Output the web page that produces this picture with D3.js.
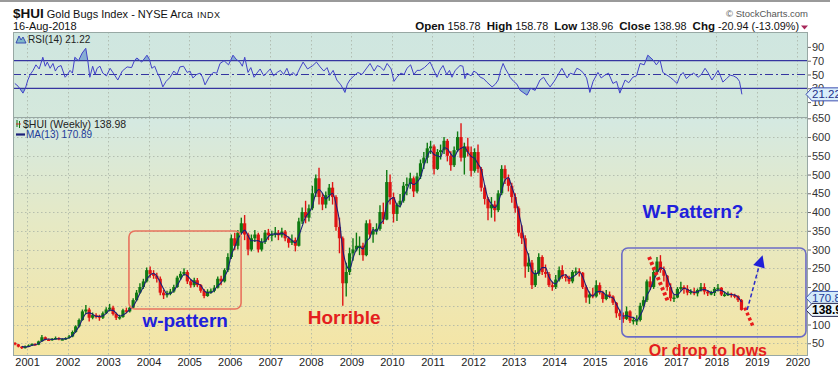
<!DOCTYPE html>
<html><head><meta charset="utf-8">
<script src="https://cdn.jsdelivr.net/npm/d3@7"></script>
<style>
body{margin:0;background:#fff}
svg{display:block}
text{font-family:"Liberation Sans",Arial,sans-serif}
</style>
</head><body>
<svg id="c" width="838" height="371"></svg>
<script>
// ---------------- DATA ----------------
const startYear = 2000, startMonth = 8;   // first monthly bar: Sep 2000
const firstOpen = 51;
const closes = [
 47,41,37,42,
 44,48,46,55,66,60,58,62,64,60,61,64,
 68,80,95,112,135,140,118,125,122,118,130,140,
 145,128,118,120,138,135,145,165,185,200,215,245,
 235,230,222,185,178,182,188,200,225,235,240,215,
 205,218,205,190,176,188,190,198,222,215,245,280,
 330,310,345,370,340,300,330,340,300,320,345,338,
 340,345,338,348,330,318,325,310,375,400,385,410,
 450,490,440,420,445,465,440,360,330,210,240,290,
 300,310,310,285,370,340,350,355,400,380,480,440,
 395,420,430,470,475,490,455,495,530,545,570,575,
 515,560,565,590,550,525,565,600,545,575,560,510,
 560,515,465,435,410,420,405,450,515,490,470,440,
 410,345,330,255,265,205,235,280,240,235,205,200,
 220,245,228,225,215,240,242,238,200,172,180,175,
 205,185,168,180,175,158,130,122,115,135,110,112,
 112,150,165,215,200,240,268,245,230,200,170,172,
 195,200,195,185,188,183,192,200,188,183,184,195,
 198,180,180,182,178,176,165,139
];
const highs = [
 53,48,42,44,
 47,50,50,57,72,68,62,64,68,66,63,66,
 72,84,98,116,140,152,145,132,130,126,135,146,
 155,150,132,126,142,145,150,170,192,210,222,252,
 255,245,238,228,192,190,195,206,230,242,250,245,
 220,225,224,208,195,194,196,205,228,230,250,290,
 340,345,352,385,392,345,340,352,345,330,352,355,
 350,360,352,358,352,335,340,332,385,412,430,420,
 470,500,518,450,455,475,480,445,385,335,265,305,
 330,345,335,318,378,380,360,370,418,425,512,500,
 452,425,448,480,492,505,495,505,540,560,585,590,
 580,568,580,600,595,562,575,615,637,585,598,575,
 570,580,520,472,440,440,430,458,525,525,500,478,
 450,415,365,338,290,272,245,290,285,260,240,215,
 232,255,258,235,230,245,252,250,240,205,188,198,
 218,212,190,192,188,178,160,140,132,148,138,120,
 125,158,175,220,228,250,280,285,255,232,210,180,
 200,214,205,205,194,198,196,211,210,192,190,200,
 208,200,188,188,185,182,178,168
];
const lows = [
 45,39,35,36,
 40,43,44,45,54,58,56,57,60,58,58,59,
 62,66,78,92,110,128,108,114,116,110,115,128,
 135,124,112,113,118,130,132,143,162,182,195,212,
 225,222,212,178,168,172,178,185,198,220,230,208,
 198,200,200,185,170,174,182,186,196,205,212,240,
 275,298,300,340,325,285,295,320,292,295,315,325,
 322,332,325,332,322,305,312,295,308,368,370,375,
 405,440,420,405,410,430,420,350,290,150,175,232,
 270,295,285,270,282,330,318,340,350,368,378,420,
 372,376,412,425,445,462,440,450,488,515,530,555,
 500,512,540,555,535,510,520,560,535,500,548,495,
 505,505,455,420,378,385,375,400,445,475,455,425,
 398,335,315,225,240,195,200,230,232,225,200,190,
 195,215,222,215,208,210,232,228,195,158,155,170,
 172,180,158,165,170,152,118,112,105,112,104,100,
 99,108,145,160,192,195,235,238,215,190,162,160,
 170,190,182,178,180,178,175,188,180,176,178,176,
 188,176,174,176,172,170,160,137
];
const maPeriod = 3;   // 3 monthly bars ~ 13 weeks

const rsiYears = [
 2000.70,2000.78,2000.90,2000.96,2001.02,2001.08,2001.15,2001.22,2001.30,2001.39,
 2001.45,2001.50,2001.57,2001.64,2001.70,2001.76,2001.84,2001.94,2002.00,2002.06,
 2002.12,2002.18,2002.27,2002.36,2002.45,2002.50,2002.55,2002.62,2002.68,2002.73,
 2002.80,2002.87,2002.96,2003.05,2003.13,2003.24,2003.35,2003.47,2003.58,2003.65,
 2003.71,2003.83,2003.96,2004.02,2004.08,2004.15,2004.21,2004.28,2004.35,2004.43,
 2004.53,2004.62,2004.70,2004.77,2004.86,2004.95,2005.02,2005.09,2005.18,2005.27,
 2005.33,2005.39,2005.48,2005.59,2005.68,2005.76,2005.86,2005.97,2006.08,2006.16,
 2006.25,2006.31,2006.37,2006.45,2006.52,2006.60,2006.67,2006.75,2006.84,2006.92,
 2007.00,2007.08,2007.17,2007.25,2007.33,2007.41,2007.48,2007.56,2007.64,2007.72,
 2007.81,2007.92,2008.05,2008.14,2008.23,2008.32,2008.40,2008.47,2008.55,2008.64,
 2008.74,2008.84,2008.90,2008.96,2009.06,2009.16,2009.26,2009.36,2009.46,2009.56,
 2009.64,2009.71,2009.80,2009.88,2009.98,2010.05,2010.12,2010.22,2010.30,2010.37,
 2010.46,2010.54,2010.62,2010.69,2010.80,2010.87,2010.94,2011.02,2011.11,2011.18,
 2011.26,2011.35,2011.42,2011.48,2011.56,2011.68,2011.75,2011.80,2011.85,2011.95,
 2012.02,2012.10,2012.18,2012.26,2012.34,2012.47,2012.55,2012.62,2012.68,2012.74,
 2012.80,2012.86,2012.91,2013.00,2013.08,2013.16,2013.33,2013.42,2013.53,2013.65,
 2013.74,2013.82,2013.90,2014.00,2014.10,2014.19,2014.32,2014.40,2014.48,2014.56,
 2014.63,2014.71,2014.80,2014.88,2014.96,2015.08,2015.16,2015.25,2015.34,2015.45,
 2015.54,2015.62,2015.75,2015.84,2015.94,2016.03,2016.12,2016.22,2016.31,2016.44,
 2016.52,2016.61,2016.68,2016.76,2016.86,2016.94,2017.03,2017.10,2017.18,2017.26,
 2017.35,2017.44,2017.55,2017.63,2017.72,2017.80,2017.89,2017.96,2018.04,2018.10,
 2018.16,2018.25,2018.34,2018.42,2018.51,2018.57,2018.63
];
const rsiValues = [
 37,33,23,30,42,50,56,64,58,75,
 62,68,59,66,55,61,63,46,50,56,
 52,75,70,81,88,70,46,62,50,59,
 62,52,48,59,52,42,55,61,60,70,
 74,68,78,72,59,62,53,45,32,40,
 46,55,50,61,62,53,55,45,50,52,
 46,35,45,53,52,66,70,64,78,72,
 68,62,75,53,60,46,52,58,48,53,
 58,48,53,56,50,59,48,53,48,58,
 68,58,63,68,61,55,60,49,56,42,
 35,24,36,42,48,53,50,58,66,55,
 63,61,56,66,58,40,46,52,50,59,
 64,50,56,56,60,64,68,58,46,56,
 63,50,56,46,56,63,62,44,52,48,
 55,52,46,44,39,32,36,42,56,66,
 58,52,46,40,36,27,20,30,27,42,
 46,38,32,40,50,59,45,52,50,59,
 57,53,45,24,40,53,45,49,52,37,
 40,23,42,38,46,48,66,64,78,71,
 64,71,53,50,46,42,37,48,53,44,
 49,52,46,50,59,52,42,48,56,48,
 39,44,49,48,45,40,21.22
];

const priceTicks = [50,100,150,200,250,300,350,400,450,500,550,600,650];
const priceLabels = [50,100,200,250,300,350,400,450,500,550,600,650]; // 150 sits under the value tags
const rsiTicks = [90,70,50,30,10];
const rsiLines = [70,30];
const yearTicks = [2001,2002,2003,2004,2005,2006,2007,2008,2009,2010,2011,2012,2013,2014,2015,2016,2017,2018,2019,2020];

const lastClose = 138.98, lastMA = 170.89, lastRSI = 21.22;

// ---------------- HELPERS ----------------
function dec(y){const Y=Math.floor(y);const s=new Date(Y,0,1),e=new Date(Y+1,0,1);return new Date(+s+(y-Y)*(e-s));}

const bars = closes.map((c,i)=>{
  const m = startMonth+i;
  return {date:new Date(startYear+Math.floor(m/12), m%12, 15),
          open: i===0?firstOpen:closes[i-1], close:c, high:highs[i], low:lows[i]};
});
const ma = bars.map((b,i)=> i<maPeriod-1?null:{date:b.date, v:d3.mean(closes.slice(i-maPeriod+1,i+1))}).filter(d=>d);
const rsi = rsiYears.map((y,i)=>({date:dec(y), v:rsiValues[i]}));

// ---------------- LAYOUT ----------------
const L=13, R=808, rTop=32, rBot=117, pTop=117, pBot=356;
const svg = d3.select("#c");
const x = d3.scaleTime().domain([dec(2000.655), dec(2020.26)]).range([L,R]);
const yP = d3.scaleLinear().domain([16,653.5]).range([pBot,pTop]);
const yR = d3.scaleLinear().domain([-11.6,111.6]).range([rBot,rTop]);

const defs = svg.append("defs");
const g = defs.append("linearGradient").attr("id","bg").attr("x1",0).attr("y1",0).attr("x2",0).attr("y2",1);
g.append("stop").attr("offset","0%").attr("stop-color","#d4e9e2");
g.append("stop").attr("offset","45%").attr("stop-color","#e6e9c4");
g.append("stop").attr("offset","100%").attr("stop-color","#f5e5a4");
const g2 = defs.append("linearGradient").attr("id","bgr").attr("x1",0).attr("y1",0).attr("x2",0).attr("y2",1);
g2.append("stop").attr("offset","0%").attr("stop-color","#cfe6e0");
g2.append("stop").attr("offset","100%").attr("stop-color","#d4e8dc");
defs.append("clipPath").attr("id","cpP").append("rect").attr("x",L).attr("y",pTop).attr("width",R-L).attr("height",pBot-pTop);
defs.append("clipPath").attr("id","cpR").append("rect").attr("x",L).attr("y",rTop).attr("width",R-L).attr("height",rBot-rTop);
defs.append("clipPath").attr("id","cpHi").append("rect").attr("x",L).attr("y",rTop).attr("width",R-L).attr("height",yR(70)-rTop);
defs.append("clipPath").attr("id","cpLo").append("rect").attr("x",L).attr("y",yR(30)).attr("width",R-L).attr("height",rBot-yR(30));

// top strip
svg.append("rect").attr("x",0).attr("y",0).attr("width",830).attr("height",2).attr("fill","#9a9a9a");

// panels
svg.append("rect").attr("x",L).attr("y",rTop).attr("width",R-L).attr("height",rBot-rTop).attr("fill","url(#bgr)");
svg.append("rect").attr("x",L).attr("y",pTop).attr("width",R-L).attr("height",pBot-pTop).attr("fill","url(#bg)");

// grids
const grid = svg.append("g").attr("stroke","#a9b2a6").attr("stroke-width",0.8).attr("stroke-dasharray","1.5,2.5");
yearTicks.forEach(yr=>{
  const xx = Math.round(x(new Date(yr,0,1)))+0.5;
  grid.append("line").attr("x1",xx).attr("x2",xx).attr("y1",rTop).attr("y2",rBot);
  grid.append("line").attr("x1",xx).attr("x2",xx).attr("y1",pTop).attr("y2",pBot);
});
priceTicks.forEach(v=>{
  const yy = Math.round(yP(v))+0.5;
  grid.append("line").attr("x1",L).attr("x2",R).attr("y1",yy).attr("y2",yy);
});

// ---------------- RSI ----------------
const rG = svg.append("g").attr("clip-path","url(#cpR)");
const rLine = d3.line().x(d=>x(d.date)).y(d=>yR(d.v));
rG.append("path").datum(rsi).attr("clip-path","url(#cpHi)")
  .attr("d", d3.area().x(d=>x(d.date)).y0(yR(70)).y1(d=>yR(d.v))).attr("fill","#6d9bcf").attr("opacity",0.75);
rG.append("path").datum(rsi).attr("clip-path","url(#cpLo)")
  .attr("d", d3.area().x(d=>x(d.date)).y0(yR(30)).y1(d=>yR(d.v))).attr("fill","#6d9bcf").attr("opacity",0.75);
rsiLines.forEach(v=>{
  rG.append("line").attr("x1",L).attr("x2",R).attr("y1",yR(v)).attr("y2",yR(v)).attr("stroke","#3535a0").attr("stroke-width",1.2);
});
rG.append("line").attr("x1",L).attr("x2",R).attr("y1",yR(50)).attr("y2",yR(50))
  .attr("stroke","#3535a0").attr("stroke-width",1).attr("stroke-dasharray","8,3,2,3");
rG.append("path").datum(rsi).attr("d",rLine).attr("fill","none").attr("stroke","#4141c8").attr("stroke-width",1);

// ---------------- PRICE ----------------
const pG = svg.append("g").attr("clip-path","url(#cpP)");
const up = "#0f7a12", dn = "#e01414";
pG.selectAll("line.w").data(bars).join("line")
  .attr("x1",d=>x(d.date)).attr("x2",d=>x(d.date)).attr("y1",d=>yP(d.high)).attr("y2",d=>yP(d.low))
  .attr("stroke",d=>d.close>=d.open?up:dn).attr("stroke-width",1.4);
pG.selectAll("rect.b").data(bars).join("rect")
  .attr("x",d=>x(d.date)-1.6).attr("width",3.2)
  .attr("y",d=>yP(Math.max(d.open,d.close))).attr("height",d=>Math.max(1.5,Math.abs(yP(d.open)-yP(d.close))))
  .attr("fill",d=>d.close>=d.open?up:dn);
pG.append("path").datum(ma).attr("d",d3.line().curve(d3.curveMonotoneX).x(d=>x(d.date)).y(d=>yP(d.v)))
  .attr("fill","none").attr("stroke","#1b1f7a").attr("stroke-width",1.1);

// panel borders
svg.append("rect").attr("x",L+0.5).attr("y",rTop+0.5).attr("width",R-L-1).attr("height",rBot-rTop).attr("fill","none").attr("stroke","#98a8a4");
svg.append("rect").attr("x",L+0.5).attr("y",pTop+0.5).attr("width",R-L-1).attr("height",pBot-pTop-1).attr("fill","none").attr("stroke","#98a8a4");

// ---------------- AXES ----------------
const axP = svg.append("g").attr("transform",`translate(${R},0)`).call(d3.axisRight(yP).tickValues(priceLabels).tickSize(3).tickPadding(1));
const axR = svg.append("g").attr("transform",`translate(${R},0)`).call(d3.axisRight(yR).tickValues(rsiTicks).tickSize(3).tickPadding(1));
[axP,axR].forEach(a=>{
  a.select(".domain").remove();
  a.selectAll("line").attr("stroke","#666");
  a.selectAll("text").attr("font-family","Liberation Sans, Arial, sans-serif").attr("font-size",11).attr("fill","#333");
});
const axX = svg.append("g").attr("transform",`translate(0,${pBot})`)
  .call(d3.axisBottom(x).tickValues(yearTicks.map(y=>new Date(y,0,1))).tickFormat(d3.timeFormat("%Y")).tickSize(0).tickPadding(2));
axX.select(".domain").remove();
axX.selectAll("text").attr("font-family","Liberation Sans, Arial, sans-serif").attr("font-size",11).attr("fill","#222");

// value tags on right
function tag(y, txt, fill, stroke, col, bold){
  const t = svg.append("g");
  t.append("path").attr("d",`M${R-2},${y} L${R+4},${y-6.5} H840 V${y+6.5} H${R+4} Z`)
    .attr("fill",fill).attr("stroke",stroke).attr("stroke-width",1);
  t.append("text").attr("x",R+4).attr("y",y+4).attr("font-size",bold?12:11.5).attr("font-weight",bold?"bold":"normal")
    .attr("fill",col).text(txt);
}
tag(yR(lastRSI), lastRSI.toFixed(2), "#d9eefb", "#3d4fb0", "#1e2f8a", false);
tag(yP(lastMA), lastMA.toFixed(2), "#d4ecfa", "#3d5ab8", "#1e3c9a", false);
tag(yP(lastClose), lastClose.toFixed(2), "#e9f5fc", "#2a2a50", "#000", true);

// ---------------- HEADER ----------------
const t1 = svg.append("text").attr("x",13).attr("y",18).attr("fill","#111");
t1.append("tspan").attr("font-size",13.5).attr("font-weight","bold").text("$HUI");
t1.append("tspan").attr("font-size",11).attr("dx",3).text("Gold Bugs Index - NYSE Arca");
t1.append("tspan").attr("font-size",9).attr("dx",4).attr("letter-spacing",0.5).text("INDX");
svg.append("text").attr("x",13).attr("y",30).attr("font-size",11).attr("fill","#111").text("16-Aug-2018");
svg.append("text").attr("x",808).attr("y",17).attr("text-anchor","end").attr("font-family","DejaVu Sans, sans-serif")
  .attr("font-size",9.5).attr("fill","#555").text("\u00A9 StockCharts.com");
const hdr = svg.append("text").attr("x",799).attr("y",30).attr("text-anchor","end").attr("fill","#111");
[["Open",1],[" 158.78  ",0],["High",1],[" 158.78  ",0],["Low",1],[" 138.96  ",0],["Close",1],[" 138.98  ",0],["Chg",1],[" -20.94 (-13.09%)",0]]
  .forEach(([s,b])=>hdr.append("tspan").attr("font-weight",b?"bold":"normal").attr("font-size",b?11.5:10.8).attr("xml:space","preserve").text(s));
svg.append("path").attr("d","M801,25.5 L808,25.5 L804.5,29.5 Z").attr("fill","#a8285a");

// legends
svg.append("path").attr("d","M16,43 L19,36 L21,40 L23,37 L26,43 Z").attr("fill","#7fb8c8").attr("stroke","#3040b0").attr("stroke-width",0.9);
svg.append("text").attr("x",28).attr("y",43).attr("font-family","DejaVu Sans Mono, monospace").attr("font-size",10).attr("fill","#222").text("RSI(14) " + lastRSI.toFixed(2));
svg.append("line").attr("x1",17).attr("x2",17).attr("y1",120).attr("y2",127).attr("stroke",up).attr("stroke-width",1);
svg.append("line").attr("x1",19.5).attr("x2",19.5).attr("y1",121).attr("y2",128).attr("stroke",up).attr("stroke-width",1);
svg.append("line").attr("x1",16).attr("x2",21).attr("y1",124).attr("y2",124).attr("stroke",dn).attr("stroke-width",0.8);
svg.append("text").attr("x",23).attr("y",128).attr("font-family","DejaVu Sans Mono, monospace").attr("font-size",10.5).attr("fill","#222").text("$HUI (Weekly) " + lastClose.toFixed(2));
svg.append("line").attr("x1",16).attr("x2",25).attr("y1",134.5).attr("y2",134.5).attr("stroke","#1b1f7a").attr("stroke-width",2.2);
svg.append("text").attr("x",26).attr("y",138).attr("font-size",10).attr("fill","#1e3c9a").text("MA(13) " + lastMA.toFixed(2));

// ---------------- ANNOTATIONS (data coordinates) ----------------
const ann = svg.append("g");
function rbox(y0,y1,v0,v1,col,sw){
  ann.append("rect").attr("x",x(dec(y0))).attr("y",yP(v0)).attr("width",x(dec(y1))-x(dec(y0))).attr("height",yP(v1)-yP(v0))
    .attr("rx",6).attr("fill","none").attr("stroke",col).attr("stroke-width",sw);
}
rbox(2003.515,2006.28,349.5,141.5,"#e8735e",1.6);
rbox(2015.67,2020.21,304,67,"#6b6bc6",1.6);
function seg(a,b,col,sw,dash){
  ann.append("line").attr("x1",x(dec(a[0]))).attr("y1",yP(a[1])).attr("x2",x(dec(b[0]))).attr("y2",yP(b[1]))
    .attr("stroke",col).attr("stroke-width",sw).attr("stroke-dasharray",dash);
}
seg([2016.34,280],[2016.80,163],"#e81c1c",4,"3,2.5");
seg([2018.70,145],[2018.90,96],"#e81c1c",3.5,"3,2.5");
seg([2018.76,139],[2019.06,258],"#2a2ac8",1.5,"4,2.5");
{ // arrow head
  const tip=[x(dec(2019.14)),yP(285)], b=[x(dec(2019.05)),yP(254)];
  const dx=tip[0]-b[0], dy=tip[1]-b[1], len=Math.hypot(dx,dy), nx=-dy/len*6, ny=dx/len*6;
  ann.append("path").attr("d",`M${tip[0]},${tip[1]} L${b[0]+nx},${b[1]+ny} L${b[0]-nx},${b[1]-ny} Z`).attr("fill","#2020d8");
}
function label(t,yr,v,col,size){
  ann.append("text").attr("x",x(dec(yr))).attr("y",yP(v)).attr("text-anchor","middle").attr("font-weight","bold")
    .attr("font-size",size).attr("fill",col).text(t);
}
label("w-pattern",2004.9,93.5,"#2020dc",19);
label("Horrible",2008.82,101,"#e41e1e",19);
label("W-Pattern?",2017.42,384,"#2020dc",19);
label("Or drop to lows",2017.79,17,"#e41e1e",16);
</script>
</body></html>
